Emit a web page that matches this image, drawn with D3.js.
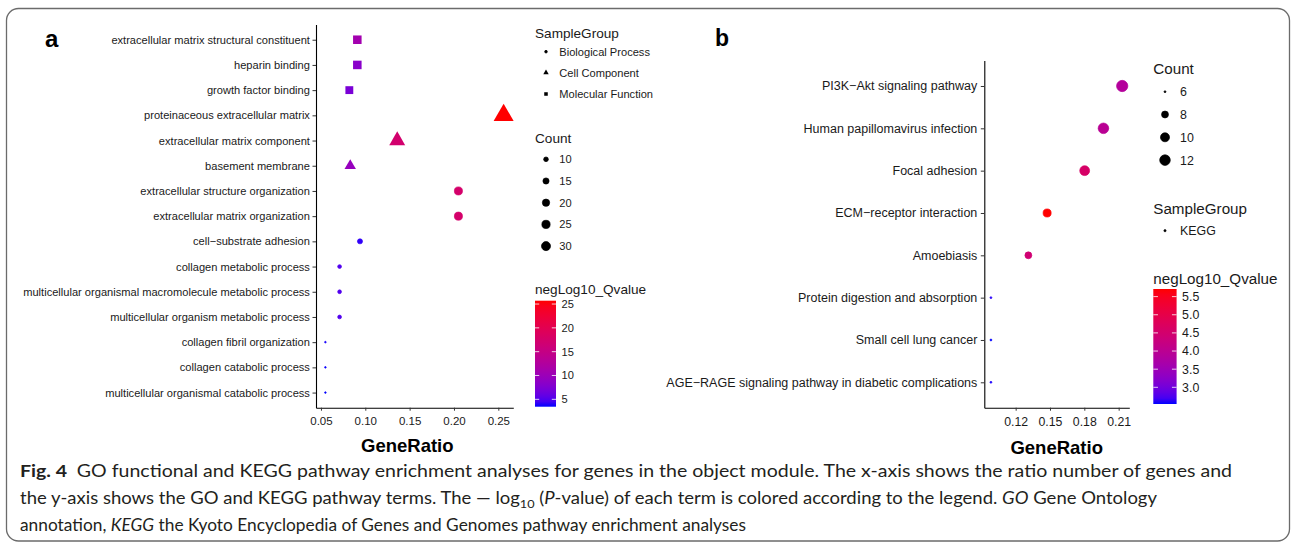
<!DOCTYPE html>
<html><head><meta charset="utf-8">
<script src="https://cdn.jsdelivr.net/npm/d3@7"></script>
<style>
body{margin:0;background:#fff}
svg{display:block}
text{fill:#1a1a1a}
</style>
</head><body>
<svg id="chart" width="1292" height="546" font-family='"Liberation Sans",Arial,Helvetica,sans-serif'></svg>
<script>
// ---------- Panel a (GO) data ----------
const goTerms = [
  "extracellular matrix structural constituent",
  "heparin binding",
  "growth factor binding",
  "proteinaceous extracellular matrix",
  "extracellular matrix component",
  "basement membrane",
  "extracellular structure organization",
  "extracellular matrix organization",
  "cell\u2212substrate adhesion",
  "collagen metabolic process",
  "multicellular organismal macromolecule metabolic process",
  "multicellular organism metabolic process",
  "collagen fibril organization",
  "collagen catabolic process",
  "multicellular organismal catabolic process"
];
const goGroup = ["Molecular Function","Molecular Function","Molecular Function",
  "Cell Component","Cell Component","Cell Component",
  "Biological Process","Biological Process","Biological Process","Biological Process",
  "Biological Process","Biological Process","Biological Process","Biological Process","Biological Process"];
const goRatio = [0.091, 0.091, 0.082, 0.256, 0.136, 0.083, 0.205, 0.205, 0.094, 0.071, 0.071, 0.071, 0.055, 0.055, 0.055];
const goCount = [16, 16, 14, 36, 23, 13, 24, 24, 11, 8, 8, 8, 6, 6, 6];
const goQ = [10.8, 8.3, 7.2, 25.7, 17.2, 9.5, 17.5, 17.5, 4.0, 5.0, 5.0, 5.0, 3.6, 3.5, 3.45];
const goGroupLegend = ["Biological Process", "Cell Component", "Molecular Function"];
const goCountBreaks = [10, 15, 20, 25, 30];
const goQBreaks = [5, 10, 15, 20, 25];
const goXTicks = [0.05, 0.10, 0.15, 0.20, 0.25];

// ---------- Panel b (KEGG) data ----------
const keggTerms = [
  "PI3K\u2212Akt signaling pathway",
  "Human papillomavirus infection",
  "Focal adhesion",
  "ECM\u2212receptor interaction",
  "Amoebiasis",
  "Protein digestion and absorption",
  "Small cell lung cancer",
  "AGE\u2212RAGE signaling pathway in diabetic complications"
];
const keggRatio = [0.2131, 0.1967, 0.1803, 0.1475, 0.1311, 0.0984, 0.0984, 0.0984];
const keggCount = [13, 12, 11, 9, 8, 6, 6, 6];
const keggQ = [3.87, 3.97, 4.6, 5.71, 4.44, 2.6, 2.54, 2.57];
const keggCountBreaks = [6, 8, 10, 12];
const keggQBreaks = [3.0, 3.5, 4.0, 4.5, 5.0, 5.5];
const keggXTicks = [0.12, 0.15, 0.18, 0.21];

const svg = d3.select("#chart");

// frame
svg.append("rect").attr("x", 6.5).attr("y", 8.5).attr("width", 1283).attr("height", 532.5)
  .attr("rx", 12).attr("fill", "none").attr("stroke", "#6b6b6b").attr("stroke-width", 1.3);

const shapeOf = {"Biological Process": d3.symbolCircle, "Cell Component": d3.symbolTriangle,
                 "Molecular Function": d3.symbolSquare, "KEGG": d3.symbolCircle};
function symArea(shape, R, circleFactor) {
  if (shape === d3.symbolCircle) return Math.PI * Math.pow(circleFactor * R, 2);
  if (shape === d3.symbolSquare) return Math.pow(1.77 * R, 2);
  return Math.sqrt(3) / 4 * Math.pow(2.694 * R, 2);
}
function symPath(shape, R, cf) { return d3.symbol().type(shape).size(symArea(shape, R, cf))(); }
function addSym(shape, R, cf, x, y, col) {
  const p = svg.append("path").attr("d", symPath(shape, R, cf))
    .attr("transform", `translate(${x},${y})`).attr("fill", col);
  if (shape === d3.symbolCircle) p.attr("stroke", col).attr("stroke-width", 0.7);
  return p;
}

function styleAxis(g, fs) {
  g.attr("font-family", null);
  g.selectAll(".domain").attr("stroke", "#000").attr("stroke-width", 1.1);
  g.selectAll(".tick line").attr("stroke", "#333").attr("stroke-width", 1);
  g.selectAll(".tick text").attr("font-size", fs).attr("fill", "#1a1a1a");
}

function colorbar(id, x, y0, y1, w, dom, breaks, fmt, fs, color) {
  const sc = d3.scaleLinear().domain(dom).range([y1, y0]);
  const grad = svg.append("defs").append("linearGradient").attr("id", id)
    .attr("x1", 0).attr("y1", 1).attr("x2", 0).attr("y2", 0);
  d3.range(0, 1.0001, 0.05).forEach(t => {
    grad.append("stop").attr("offset", t).attr("stop-color", color(dom[0] + t * (dom[1] - dom[0])));
  });
  svg.append("rect").attr("x", x).attr("y", y0).attr("width", w).attr("height", y1 - y0)
    .attr("fill", `url(#${id})`);
  breaks.forEach(b => {
    const yy = sc(b);
    svg.append("line").attr("x1", x).attr("x2", x + w * 0.2).attr("y1", yy).attr("y2", yy)
      .attr("stroke", "#fff").attr("stroke-width", 0.8);
    svg.append("line").attr("x1", x + w * 0.8).attr("x2", x + w).attr("y1", yy).attr("y2", yy)
      .attr("stroke", "#fff").attr("stroke-width", 0.8);
    svg.append("text").attr("x", x + w + 5.5).attr("y", yy + fs * 0.36).attr("font-size", fs).text(fmt(b));
  });
}

// ================= Panel a =================
const xA = d3.scaleLinear().domain([0.0444, 0.2669]).range([316, 513.3]);
const yA = d3.scalePoint().domain(goTerms).range([24.6, 407.7]).padding(0.6);
const cA = d3.scaleLinear().domain([3.45, 25.7]).range(["blue", "red"]).interpolate(d3.interpolateLab);
const tA = d3.scaleLinear().domain([6, 36]).range([0, 1]);
const RA = c => 1.24 * (1 + 5 * Math.sqrt(Math.max(0, tA(c))));

const gAy = svg.append("g").attr("transform", "translate(316,0)")
  .call(d3.axisLeft(yA).tickSize(3.5).tickPadding(2.6).tickSizeOuter(0));
styleAxis(gAy, 11.1);
const gAx = svg.append("g").attr("transform", "translate(0,407.7)")
  .call(d3.axisBottom(xA).tickValues(goXTicks).tickFormat(d3.format(".2f")).tickSize(3).tickPadding(6.2).tickSizeOuter(0));
styleAxis(gAx, 11.5);

goTerms.forEach((t, i) => {
  const sh = shapeOf[goGroup[i]];
  const R = RA(goCount[i]);
  addSym(sh, sh === d3.symbolCircle ? R : R, 0.667, xA(goRatio[i]), yA(t), cA(goQ[i]));
});

svg.append("text").attr("x", 407.3).attr("y", 452).attr("text-anchor", "middle")
  .attr("font-size", 18.5).attr("font-weight", "bold").style("fill", "#000").text("GeneRatio");
svg.append("text").attr("x", 45).attr("y", 47).attr("font-size", 24).attr("font-weight", "bold")
  .style("fill", "#000").text("a");

// legends a
svg.append("text").attr("x", 535).attr("y", 38).attr("font-size", 13.6).text("SampleGroup");
goGroupLegend.forEach((g, i) => {
  const yy = [51.7, 72.7, 94][i];
  addSym(shapeOf[g], 2.0, 0.667, 546, yy, "#000");
  svg.append("text").attr("x", 559.3).attr("y", yy + 3.9).attr("font-size", 11.1).text(g);
});
svg.append("text").attr("x", 535).attr("y", 143).attr("font-size", 13.6).text("Count");
goCountBreaks.forEach((c, i) => {
  const yy = 159.3 + i * 21.7;
  addSym(d3.symbolCircle, RA(c), 0.667, 546, yy, "#000");
  svg.append("text").attr("x", 559.3).attr("y", yy + 3.9).attr("font-size", 11.1).text(c);
});
svg.append("text").attr("x", 535).attr("y", 294).attr("font-size", 13.6).text("negLog10_Qvalue");
colorbar("gradA", 535, 300.7, 406.7, 21, [3.45, 25.7], goQBreaks, d3.format("d"), 11.1, cA);

// ================= Panel b =================
const xB = d3.scaleLinear().domain([0.0926, 0.2193]).range([984.3, 1129.3]);
const yB = d3.scalePoint().domain(keggTerms).range([60.6, 407.7]).padding(0.6);
const cB = d3.scaleLinear().domain([2.54, 5.71]).range(["blue", "red"]).interpolate(d3.interpolateLab);
const tB = d3.scaleLinear().domain([6, 13]).range([0, 1]);
const RB = c => 0.94 * (1 + 5 * Math.sqrt(Math.max(0, tB(c))));

const gBy = svg.append("g").attr("transform", "translate(984.3,0)")
  .call(d3.axisLeft(yB).tickSize(3.5).tickPadding(3.5).tickSizeOuter(0));
styleAxis(gBy, 12.5);
const gBx = svg.append("g").attr("transform", "translate(0,407.7)")
  .call(d3.axisBottom(xB).tickValues(keggXTicks).tickFormat(d3.format(".2f")).tickSize(3).tickPadding(6.7).tickSizeOuter(0));
styleAxis(gBx, 12.3);

keggTerms.forEach((t, i) => {
  addSym(d3.symbolCircle, RB(keggCount[i]), 1, xB(keggRatio[i]), yB(t), cB(keggQ[i]));
});

svg.append("text").attr("x", 1056.7).attr("y", 453.5).attr("text-anchor", "middle")
  .attr("font-size", 18.5).attr("font-weight", "bold").style("fill", "#000").text("GeneRatio");
svg.append("text").attr("x", 715).attr("y", 46).attr("font-size", 23).attr("font-weight", "bold")
  .style("fill", "#000").text("b");

// legends b
svg.append("text").attr("x", 1153.3).attr("y", 73.6).attr("font-size", 15.2).text("Count");
keggCountBreaks.forEach((c, i) => {
  const yy = 91.7 + i * 22.8;
  addSym(d3.symbolCircle, RB(c), 1, 1165, yy, "#000");
  svg.append("text").attr("x", 1180).attr("y", yy + 4.4).attr("font-size", 12.4).text(c);
});
svg.append("text").attr("x", 1153.3).attr("y", 213.6).attr("font-size", 15.2).text("SampleGroup");
addSym(d3.symbolCircle, 1.1, 1, 1165, 230.7, "#000");
svg.append("text").attr("x", 1180).attr("y", 235.1).attr("font-size", 12.4).text("KEGG");
svg.append("text").attr("x", 1153.3).attr("y", 284.3).attr("font-size", 15.2).text("negLog10_Qvalue");
colorbar("gradB", 1153.3, 289, 404, 23.3, [2.54, 5.71], keggQBreaks, d3.format(".1f"), 12.4, cB);

// ================= Caption =================
const capFont = 'Lato, "Open Sans", "Noto Sans", sans-serif';
const capFs = 17.5;
function capLine(y, len) {
  return svg.append("text").attr("x", 20).attr("y", y).attr("font-size", capFs)
    .attr("font-family", capFont).style("fill", "#231f20")
    .attr("textLength", len).attr("lengthAdjust", "spacingAndGlyphs");
}
const l1 = capLine(477, 1212);
l1.append("tspan").attr("font-weight", "bold").text("Fig. 4");
l1.append("tspan").text("\u2002GO functional and KEGG pathway enrichment analyses for genes in the object module. The x-axis shows the ratio number of genes and");

const l2 = capLine(504, 1137);
l2.append("tspan").text("the y-axis shows the GO and KEGG pathway terms. The \u2014 log");
l2.append("tspan").attr("font-size", 12).attr("dy", 4).text("10");
l2.append("tspan").attr("dy", -4).text(" (");
l2.append("tspan").attr("font-style", "italic").text("P");
l2.append("tspan").text("-value) of each term is colored according to the legend. ");
l2.append("tspan").attr("font-style", "italic").text("GO");
l2.append("tspan").text(" Gene Ontology");

const l3 = capLine(531, 726);
l3.append("tspan").text("annotation, ");
l3.append("tspan").attr("font-style", "italic").text("KEGG");
l3.append("tspan").text(" the Kyoto Encyclopedia of Genes and Genomes pathway enrichment analyses");
</script>
</body></html>
